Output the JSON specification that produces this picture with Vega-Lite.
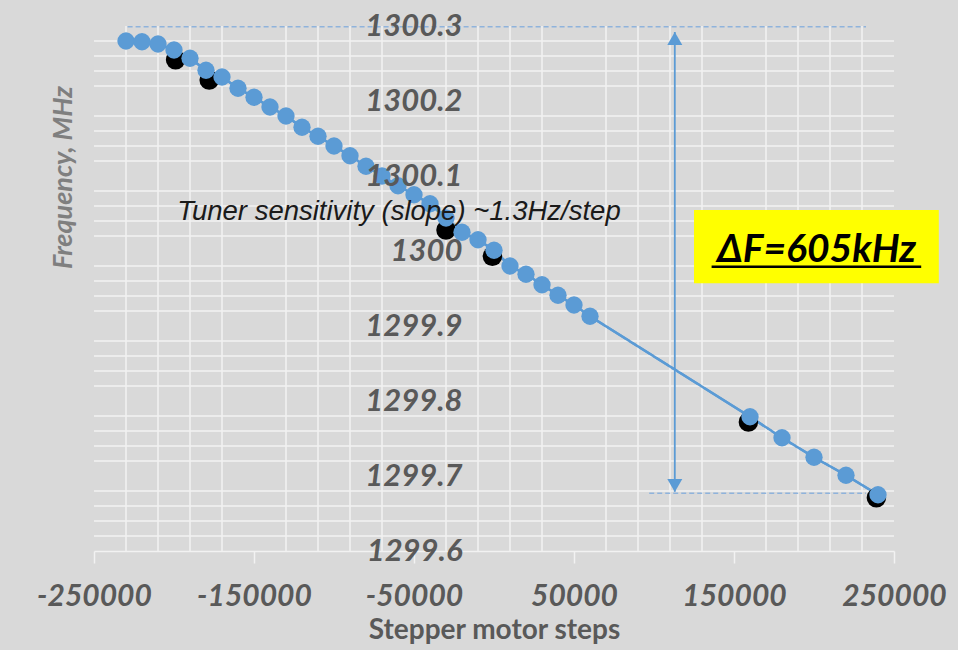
{
  "$schema": "https://vega.github.io/schema/vega-lite/v6.json",
  "width": 800,
  "height": 525,
  "autosize": "none",
  "padding": {"left": 94, "top": 26, "right": 64, "bottom": 99},
  "background": "#d9d9d9",
  "config": {"view": {"stroke": null}},
  "datasets": {
    "blue": [
      {"x": -230000, "y": 1300.280}, {"x": -220000, "y": 1300.279}, {"x": -210000, "y": 1300.276},
      {"x": -200000, "y": 1300.268}, {"x": -190000, "y": 1300.257}, {"x": -180000, "y": 1300.241},
      {"x": -170000, "y": 1300.232}, {"x": -160000, "y": 1300.217}, {"x": -150000, "y": 1300.205},
      {"x": -140000, "y": 1300.192}, {"x": -130000, "y": 1300.180}, {"x": -120000, "y": 1300.165},
      {"x": -110000, "y": 1300.153}, {"x": -100000, "y": 1300.140}, {"x": -90000, "y": 1300.127},
      {"x": -80000, "y": 1300.113}, {"x": -70000, "y": 1300.100}, {"x": -60000, "y": 1300.087},
      {"x": -50000, "y": 1300.075}, {"x": -40000, "y": 1300.063}, {"x": -30000, "y": 1300.044},
      {"x": -20000, "y": 1300.025}, {"x": -10000, "y": 1300.015}, {"x": 0, "y": 1300.001},
      {"x": 10000, "y": 1299.980}, {"x": 20000, "y": 1299.969}, {"x": 30000, "y": 1299.955},
      {"x": 40000, "y": 1299.941}, {"x": 50000, "y": 1299.928}, {"x": 60000, "y": 1299.913},
      {"x": 160000, "y": 1299.779}, {"x": 180000, "y": 1299.751}, {"x": 200000, "y": 1299.725},
      {"x": 220000, "y": 1299.701}, {"x": 240000, "y": 1299.675}
    ],
    "black": [
      {"x": -199000, "y": 1300.255}, {"x": -178000, "y": 1300.228}, {"x": -30000, "y": 1300.028},
      {"x": -1000, "y": 1299.993}, {"x": 159000, "y": 1299.772}, {"x": 239000, "y": 1299.671}
    ],
    "hgrid": [
      {"y": 1299.62}, {"y": 1299.64}, {"y": 1299.66}, {"y": 1299.68},
      {"y": 1299.72}, {"y": 1299.74}, {"y": 1299.76}, {"y": 1299.78},
      {"y": 1299.82}, {"y": 1299.84}, {"y": 1299.86}, {"y": 1299.88},
      {"y": 1299.92}, {"y": 1299.94}, {"y": 1299.96}, {"y": 1299.98},
      {"y": 1300.02}, {"y": 1300.04}, {"y": 1300.06}, {"y": 1300.08},
      {"y": 1300.12}, {"y": 1300.14}, {"y": 1300.16}, {"y": 1300.18},
      {"y": 1300.22}, {"y": 1300.24}, {"y": 1300.26}, {"y": 1300.28}
    ],
    "vgrid": [
      {"x": -230000}, {"x": -210000}, {"x": -190000}, {"x": -170000},
      {"x": -130000}, {"x": -110000}, {"x": -90000}, {"x": -70000},
      {"x": -30000}, {"x": -10000}, {"x": 10000}, {"x": 30000},
      {"x": 70000}, {"x": 90000}, {"x": 110000}, {"x": 130000},
      {"x": 170000}, {"x": 190000}, {"x": 210000}, {"x": 230000}
    ],
    "dashes": [
      {"x": -229000, "x2": 232500, "y": 1300.299},
      {"x": 97000, "x2": 232500, "y": 1299.677}
    ],
    "arrow": [{"x": 113000, "y": 1300.292, "y2": 1299.679}],
    "heads": [
      {"x": 113000, "y": 1300.2833, "shape": "triangle-up"},
      {"x": 113000, "y": 1299.6873, "shape": "triangle-down"}
    ],
    "note": [{"x": -59400, "y": 1300.0413, "text": "Tuner sensitivity (slope) ~1.3Hz/step"}],
    "box": [{"x": 125000, "x2": 278000, "y": 1300.0547, "y2": 1299.957}],
    "delta": [{"x": 201600, "y": 1299.9853, "text": "ΔF=605kHz"}],
    "underline": [{"x": 136000, "x2": 267000, "y": 1299.979}]
  },
  "layer": [
    {
      "data": {"name": "blue"},
      "mark": {"type": "line", "color": "#5b9bd5", "strokeWidth": 2.5},
      "encoding": {
        "x": {
          "field": "x", "type": "quantitative",
          "scale": {"domain": [-250000, 250000], "nice": false, "zero": false},
          "axis": {
            "values": [-250000, -150000, -50000, 50000, 150000, 250000],
            "labelExpr": "'' + datum.value",
            "title": "Stepper motor steps",
            "grid": false,
            "domainColor": "#f2f2f2", "domainWidth": 1.5,
            "tickColor": "#f2f2f2", "tickWidth": 1.5, "tickSize": 12,
            "labelFont": "Lato", "labelFontSize": 30, "labelFontWeight": "bold", "labelFontStyle": "italic",
            "labelColor": "#595959", "labelPadding": 18, "labelFlush": false, "labelOverlap": false,
            "titleFont": "Lato", "titleFontSize": 28, "titleFontWeight": "bold", "titleColor": "#595959",
            "titlePadding": 5
          }
        },
        "y": {
          "field": "y", "type": "quantitative",
          "scale": {"domain": [1299.6, 1300.3], "nice": false, "zero": false},
          "axis": {
            "values": [1299.6, 1299.7, 1299.8, 1299.9, 1300, 1300.1, 1300.2, 1300.3],
            "labelExpr": "'' + datum.value",
            "offset": -370,
            "domain": false, "ticks": false, "tickSize": 0, "grid": false,
            "labelPadding": 2, "labelFlush": false, "labelOverlap": false,
            "labelFont": "Lato", "labelFontSize": 31, "labelFontWeight": "bold", "labelFontStyle": "italic",
            "labelColor": "#595959",
            "title": "Frequency,  MHz",
            "titleX": -401, "titleY": 151, "titleAngle": -90, "titleAlign": "center", "titleBaseline": "middle",
            "titleFont": "Lato", "titleFontSize": 27, "titleFontWeight": "bold", "titleFontStyle": "italic",
            "titleColor": "#7f7f7f",
            "zindex": 1
          }
        }
      }
    },
    {
      "data": {"name": "hgrid"},
      "mark": {"type": "rule", "color": "#f2f2f2", "strokeWidth": 1.5},
      "encoding": {
        "y": {"field": "y", "type": "quantitative", "scale": {"domain": [1299.6, 1300.3], "nice": false, "zero": false}}
      }
    },
    {
      "data": {"name": "vgrid"},
      "mark": {"type": "rule", "color": "#f2f2f2", "strokeWidth": 1.5},
      "encoding": {
        "x": {"field": "x", "type": "quantitative", "scale": {"domain": [-250000, 250000], "nice": false, "zero": false}}
      }
    },
    {
      "data": {"name": "dashes"},
      "mark": {"type": "rule", "color": "#8fb3dc", "strokeWidth": 1.3, "strokeDash": [5, 3]},
      "encoding": {
        "x": {"field": "x", "type": "quantitative", "scale": {"domain": [-250000, 250000], "nice": false, "zero": false}},
        "x2": {"field": "x2"},
        "y": {"field": "y", "type": "quantitative", "scale": {"domain": [1299.6, 1300.3], "nice": false, "zero": false}}
      }
    },
    {
      "data": {"name": "arrow"},
      "mark": {"type": "rule", "color": "#5b9bd5", "strokeWidth": 1.8},
      "encoding": {
        "x": {"field": "x", "type": "quantitative", "scale": {"domain": [-250000, 250000], "nice": false, "zero": false}},
        "y": {"field": "y", "type": "quantitative", "scale": {"domain": [1299.6, 1300.3], "nice": false, "zero": false}},
        "y2": {"field": "y2"}
      }
    },
    {
      "data": {"name": "heads"},
      "mark": {"type": "point", "filled": true, "color": "#5b9bd5", "opacity": 1, "size": 225},
      "encoding": {
        "x": {"field": "x", "type": "quantitative", "scale": {"domain": [-250000, 250000], "nice": false, "zero": false}},
        "y": {"field": "y", "type": "quantitative", "scale": {"domain": [1299.6, 1300.3], "nice": false, "zero": false}},
        "shape": {"field": "shape", "type": "nominal", "scale": null, "legend": null}
      }
    },
    {
      "data": {"name": "blue"},
      "mark": {"type": "line", "color": "#5b9bd5", "strokeWidth": 2.5},
      "encoding": {
        "x": {"field": "x", "type": "quantitative", "scale": {"domain": [-250000, 250000], "nice": false, "zero": false}},
        "y": {"field": "y", "type": "quantitative", "scale": {"domain": [1299.6, 1300.3], "nice": false, "zero": false}}
      }
    },
    {
      "data": {"name": "black"},
      "mark": {"type": "circle", "color": "#000000", "opacity": 1, "size": 380},
      "encoding": {
        "x": {"field": "x", "type": "quantitative", "scale": {"domain": [-250000, 250000], "nice": false, "zero": false}},
        "y": {"field": "y", "type": "quantitative", "scale": {"domain": [1299.6, 1300.3], "nice": false, "zero": false}}
      }
    },
    {
      "data": {"name": "blue"},
      "mark": {"type": "circle", "color": "#5b9bd5", "opacity": 1, "size": 300},
      "encoding": {
        "x": {"field": "x", "type": "quantitative", "scale": {"domain": [-250000, 250000], "nice": false, "zero": false}},
        "y": {"field": "y", "type": "quantitative", "scale": {"domain": [1299.6, 1300.3], "nice": false, "zero": false}}
      }
    },
    {
      "data": {"name": "note"},
      "mark": {"type": "text", "font": "Liberation Sans", "fontStyle": "italic", "fontSize": 27.5, "color": "#1a1a1a", "align": "center", "baseline": "alphabetic"},
      "encoding": {
        "x": {"field": "x", "type": "quantitative", "scale": {"domain": [-250000, 250000], "nice": false, "zero": false}},
        "y": {"field": "y", "type": "quantitative", "scale": {"domain": [1299.6, 1300.3], "nice": false, "zero": false}},
        "text": {"field": "text"}
      }
    },
    {
      "data": {"name": "box"},
      "mark": {"type": "rect", "color": "#ffff00", "opacity": 1},
      "encoding": {
        "x": {"field": "x", "type": "quantitative", "scale": {"domain": [-250000, 250000], "nice": false, "zero": false}},
        "x2": {"field": "x2"},
        "y": {"field": "y", "type": "quantitative", "scale": {"domain": [1299.6, 1300.3], "nice": false, "zero": false}},
        "y2": {"field": "y2"}
      }
    },
    {
      "data": {"name": "delta"},
      "mark": {"type": "text", "font": "Lato", "fontStyle": "italic", "fontWeight": "bold", "fontSize": 39, "color": "#000000", "align": "center", "baseline": "alphabetic"},
      "encoding": {
        "x": {"field": "x", "type": "quantitative", "scale": {"domain": [-250000, 250000], "nice": false, "zero": false}},
        "y": {"field": "y", "type": "quantitative", "scale": {"domain": [1299.6, 1300.3], "nice": false, "zero": false}},
        "text": {"field": "text"}
      }
    },
    {
      "data": {"name": "underline"},
      "mark": {"type": "rule", "color": "#000000", "strokeWidth": 2.5},
      "encoding": {
        "x": {"field": "x", "type": "quantitative", "scale": {"domain": [-250000, 250000], "nice": false, "zero": false}},
        "x2": {"field": "x2"},
        "y": {"field": "y", "type": "quantitative", "scale": {"domain": [1299.6, 1300.3], "nice": false, "zero": false}}
      }
    }
  ]
}
